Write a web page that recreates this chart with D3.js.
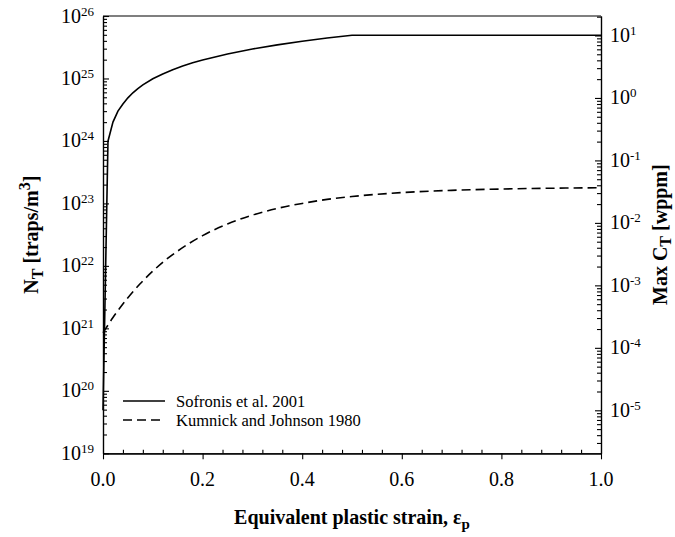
<!DOCTYPE html>
<html>
<head>
<meta charset="utf-8">
<script src="https://cdn.jsdelivr.net/npm/d3@7"></script>
<style>
  html, body { margin: 0; padding: 0; background: #fff; }
  svg { display: block; }
  text { font-family: "Liberation Serif", "Times New Roman", serif; fill: #000; }
</style>
</head>
<body>
<svg id="chart" width="675" height="537"></svg>
<script>
// Trap density vs. equivalent plastic strain
const strainSofronis = [0, 0.01, 0.02, 0.03, 0.04, 0.05, 0.06, 0.07, 0.08, 0.10, 0.12, 0.14, 0.16, 0.18, 0.20, 0.25, 0.30, 0.35, 0.40, 0.45, 0.50, 1.00];
const ntSofronis = [4.9e19, 9.9e23, 2.0e24, 3.0e24, 3.9e24, 4.9e24, 5.9e24, 6.9e24, 7.9e24, 9.9e24, 1.18e25, 1.38e25, 1.58e25, 1.78e25, 1.97e25, 2.47e25, 2.96e25, 3.45e25, 3.95e25, 4.44e25, 4.93e25, 4.93e25];

const strainKumnick = [0, 0.01, 0.02, 0.03, 0.05, 0.075, 0.10, 0.125, 0.15, 0.20, 0.25, 0.30, 0.35, 0.40, 0.45, 0.50, 0.60, 0.70, 0.80, 0.90, 1.00];
const ntKumnick = [8.5e20, 1.13e21, 1.49e21, 1.92e21, 3.09e21, 5.22e21, 8.24e21, 1.23e22, 1.73e22, 3.05e22, 4.69e22, 6.50e22, 8.32e22, 1.00e23, 1.16e23, 1.29e23, 1.49e23, 1.62e23, 1.70e23, 1.75e23, 1.78e23];

const seriesNames = ["Sofronis et al. 2001", "Kumnick and Johnson 1980"];

// Axis ranges and ticks
const xDomain = [0, 1];
const xMajorTicks = [0, 0.2, 0.4, 0.6, 0.8, 1.0];
const xTickLabels = ["0.0", "0.2", "0.4", "0.6", "0.8", "1.0"];
const ntDomain = [1e19, 1e26];
const ntExponents = [19, 20, 21, 22, 23, 24, 25, 26];
const ctExponents = [-5, -4, -3, -2, -1, 0, 1];
const wppmPerTrap = 2.05e-25; // traps/m^3 -> wppm of trapped hydrogen

const svg = d3.select("#chart");
const L = 103, R = 601, T = 16, B = 453.3;

const x = d3.scaleLinear().domain(xDomain).range([L, R]);
const yL = d3.scaleLog().domain(ntDomain).range([B, T]);
const yR = d3.scaleLog().domain(ntDomain.map(v => v * wppmPerTrap)).range([B, T]);

function minorLog(scale) {
  const [a, b] = scale.domain();
  const out = [];
  for (let e = Math.floor(Math.log10(a)); e <= Math.ceil(Math.log10(b)); e++) {
    for (let m = 2; m <= 9; m++) {
      const v = m * Math.pow(10, e);
      if (v > a * 1.0001 && v < b * 0.9999) out.push(v);
    }
  }
  return out;
}

const axisStyle = g => {
  g.selectAll("path.domain").attr("stroke", "#000").attr("stroke-width", 1.2);
  g.selectAll(".tick line").attr("stroke", "#000").attr("stroke-width", 1.1);
  g.selectAll(".tick text").remove();
};

// bottom axis: major ticks outward, minor ticks inward
svg.append("g").attr("transform", `translate(0,${B})`)
  .call(d3.axisBottom(x).tickValues(xMajorTicks).tickSize(6).tickSizeOuter(0).tickFormat(""))
  .call(axisStyle);
svg.append("g").attr("transform", `translate(0,${B})`)
  .call(d3.axisTop(x).tickValues(d3.range(0.04, 1, 0.04).filter((v, i) => (i + 1) % 5 !== 0)).tickSize(3.5).tickSizeOuter(0).tickFormat(""))
  .call(axisStyle);

// left axis (ticks inward)
svg.append("g").attr("transform", `translate(${L},0)`)
  .call(d3.axisRight(yL).tickValues(ntExponents.map(e => Math.pow(10, e))).tickSize(6).tickSizeOuter(0).tickFormat(""))
  .call(axisStyle);
svg.append("g").attr("transform", `translate(${L},0)`)
  .call(d3.axisRight(yL).tickValues(minorLog(yL)).tickSize(4).tickSizeOuter(0).tickFormat(""))
  .call(axisStyle);

// right axis (ticks inward)
svg.append("g").attr("transform", `translate(${R},0)`)
  .call(d3.axisLeft(yR).tickValues(ctExponents.map(e => Math.pow(10, e))).tickSize(6).tickSizeOuter(0).tickFormat(""))
  .call(axisStyle);
svg.append("g").attr("transform", `translate(${R},0)`)
  .call(d3.axisLeft(yR).tickValues(minorLog(yR)).tickSize(4).tickSizeOuter(0).tickFormat(""))
  .call(axisStyle);

// top frame
svg.append("line").attr("x1", L).attr("x2", R).attr("y1", T).attr("y2", T)
  .attr("stroke", "#000").attr("stroke-width", 1.2);

// tick labels
svg.append("g").selectAll("text").data(xMajorTicks).join("text")
  .attr("x", d => x(d)).attr("y", 486)
  .attr("text-anchor", "middle").attr("font-size", 20)
  .text((d, i) => xTickLabels[i]);

function powLabel(sel) {
  sel.append("tspan").text("10");
  sel.append("tspan").attr("dy", -7).attr("font-size", 13).text(d => d);
}
svg.append("g").selectAll("text").data(ntExponents).join("text")
  .attr("x", 94).attr("y", d => yL(Math.pow(10, d)) + 6.5)
  .attr("text-anchor", "end").attr("font-size", 20)
  .call(powLabel);
svg.append("g").selectAll("text").data(ctExponents).join("text")
  .attr("x", 610).attr("y", d => yR(Math.pow(10, d)) + 6.5)
  .attr("text-anchor", "start").attr("font-size", 20)
  .call(powLabel);

// curves
const lineNT = d3.line().x(d => x(d[0])).y(d => yL(d[1]));
svg.append("path")
  .datum(strainSofronis.map((s, i) => [s, ntSofronis[i]]))
  .attr("d", lineNT)
  .attr("fill", "none").attr("stroke", "#000").attr("stroke-width", 1.6);
svg.append("path")
  .datum(strainKumnick.map((s, i) => [s, ntKumnick[i]]))
  .attr("d", lineNT.curve(d3.curveMonotoneX))
  .attr("fill", "none").attr("stroke", "#000").attr("stroke-width", 1.6)
  .attr("stroke-dasharray", "9,5");

// legend
const legend = svg.append("g");
[0, 1].forEach(i => {
  const yy = 401 + i * 19;
  legend.append("line").attr("x1", 123).attr("x2", 165).attr("y1", yy).attr("y2", yy)
    .attr("stroke", "#000").attr("stroke-width", 1.6)
    .attr("stroke-dasharray", i === 1 ? "9,5" : null);
  legend.append("text").attr("x", 176).attr("y", yy + 5.5).attr("font-size", 16.5)
    .text(seriesNames[i]);
});

// axis titles
const xt = svg.append("text").attr("x", (L + R) / 2).attr("y", 524)
  .attr("text-anchor", "middle").attr("font-size", 20).attr("font-weight", "bold");
xt.append("tspan").text("Equivalent plastic strain, ε");
xt.append("tspan").attr("dy", 5).attr("font-size", 15).text("p");

const yt = svg.append("text").attr("transform", `translate(38,${(T + B) / 2}) rotate(-90)`)
  .attr("text-anchor", "middle").attr("font-size", 20).attr("font-weight", "bold");
yt.append("tspan").text("N");
yt.append("tspan").attr("dy", 5).attr("font-size", 16).text("T");
yt.append("tspan").attr("dy", -5).text(" [traps/m");
yt.append("tspan").attr("dy", -8).attr("font-size", 16).text("3");
yt.append("tspan").attr("dy", 8).text("]");

const yr = svg.append("text").attr("transform", `translate(667,${(T + B) / 2}) rotate(-90)`)
  .attr("text-anchor", "middle").attr("font-size", 20).attr("font-weight", "bold");
yr.append("tspan").text("Max C");
yr.append("tspan").attr("dy", 4).attr("font-size", 16).text("T");
yr.append("tspan").attr("dy", -4).text(" [wppm]");
</script>
</body>
</html>
